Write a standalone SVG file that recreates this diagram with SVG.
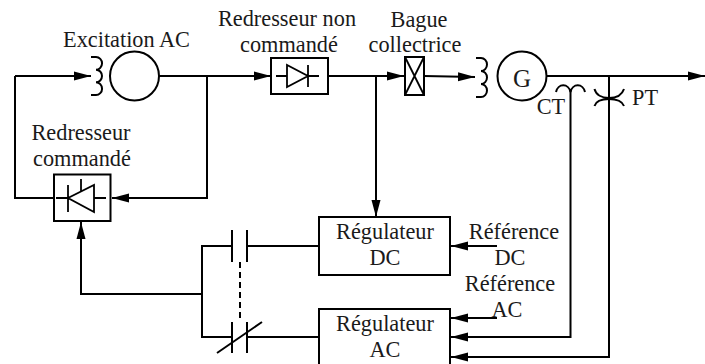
<svg xmlns="http://www.w3.org/2000/svg" width="705" height="364" viewBox="0 0 705 364">
<defs>
<marker id="arrow" markerUnits="userSpaceOnUse" markerWidth="17" markerHeight="10" refX="17" refY="5" orient="auto"><path d="M0,0.500 L17,5 L0,9.500 Z" fill="#000"/></marker>
</defs>
<style>
text{font-family:"Liberation Serif","Times New Roman",serif;font-size:22.300px;fill:#1a1a1a;text-anchor:middle}
.s{fill:none;stroke:#000;stroke-width:2}
.t{fill:none;stroke:#000;stroke-width:1.800}
.a{marker-end:url(#arrow)}
</style>
<rect width="705" height="364" fill="#fff"/>
<g id="connectors">
<path class="s a" d="M15,76 H91"/>
<path class="s" d="M15,76 V198 H54"/>
<path class="s a" d="M159,76 H271"/>
<path class="s a" d="M207,76 V198 H112"/>
<path class="s a" d="M328,76 H404"/>
<path class="s a" d="M376,76 V217"/>
<path class="s a" d="M424,76 L475,77"/>
<path class="s a" d="M547,76 H705"/>
<path class="s a" d="M570.500,90 V337 H451"/>
<path class="s a" d="M609,76 V357 H451"/>
<path class="s a" d="M497,246 H451"/>
<path class="s a" d="M497,318 H451"/>
<path class="s" d="M319,246 H247"/>
<path class="s" d="M232,246 H202 V337 H232"/>
<path class="s" d="M247,337 H319"/>
<path class="s a" d="M202,294 H81 V222"/>
<path class="s" d="M240,262 V322" stroke-dasharray="6 4"/>
</g>
<g id="exciter-coil"><path class="s" d="M91,57 H96 A6,6.300 0 0 1 96,69.700 A6,6.300 0 0 1 96,82.300 A6,6.300 0 0 1 96,95 H91"/></g>
<g id="exciter"><circle class="s" cx="134.500" cy="76" r="24.500"/><text x="126.500" y="47">Excitation AC</text></g>
<g id="controlled-rectifier">
<rect class="s" x="54" y="174.500" width="56.500" height="46.500" fill="#fff"/>
<path class="t" d="M56,198 H68 M94,198 H106 M68,185 V212 M94,185 V212 L68,198 Z M81,179 V191"/>
<text x="81" y="140">Redresseur</text><text x="82" y="166">commandé</text>
</g>
<g id="uncontrolled-rectifier">
<rect class="s" x="271" y="58" width="57" height="36"/>
<path class="t" d="M276,76 H287 M308,76 H319 M287,65 V87 L308,76 Z M308,65 V87"/>
<text x="287" y="26">Redresseur non</text><text x="289" y="52">commandé</text>
</g>
<g id="slip-ring">
<rect class="s" x="405" y="57" width="19" height="38"/>
<path class="t" d="M405,57 L424,95 M424,57 L405,95"/>
<text x="419" y="27">Bague</text><text x="415" y="52">collectrice</text>
</g>
<g id="generator-coil"><path class="s" d="M476,58 H481 A6,6.500 0 0 1 481,71 A6,6.500 0 0 1 481,84 A6,6.500 0 0 1 481,97 H476"/></g>
<g id="generator"><circle class="s" cx="522" cy="76" r="24.500"/><text x="522" y="87" style="font-size:25px">G</text></g>
<g id="ct"><path class="s" d="M556,92 A7.500,9 0 0 1 570.500,92 A7.500,9 0 0 1 585,92"/><text x="551" y="114">CT</text></g>
<g id="pt"><path class="s" d="M594.500,89 C596,95 602,98 609,98 C616,98 622,95 624,89 M594.500,106 C596,101 602,99 609,99 C616,99 622,101 624,106"/><text x="645" y="105">PT</text></g>
<g id="contact-top"><path class="s" d="M232,230 V262 M247,230 V262"/></g>
<g id="contact-bottom"><path class="s" d="M232,322 V353 M247,322 V353 M217,353 L262,322"/></g>
<g id="regulator-dc"><rect class="s" x="319" y="217" width="131" height="58"/><text x="385" y="239">Régulateur</text><text x="385" y="265">DC</text></g>
<g id="regulator-ac"><rect class="s" x="319" y="309" width="131" height="60"/><text x="385" y="331">Régulateur</text><text x="385" y="357">AC</text></g>
<g id="references">
<text x="514" y="239">Référence</text><text x="510" y="265">DC</text>
<text x="510" y="291">Référence</text><text x="507" y="317">AC</text>
</g>
</svg>
